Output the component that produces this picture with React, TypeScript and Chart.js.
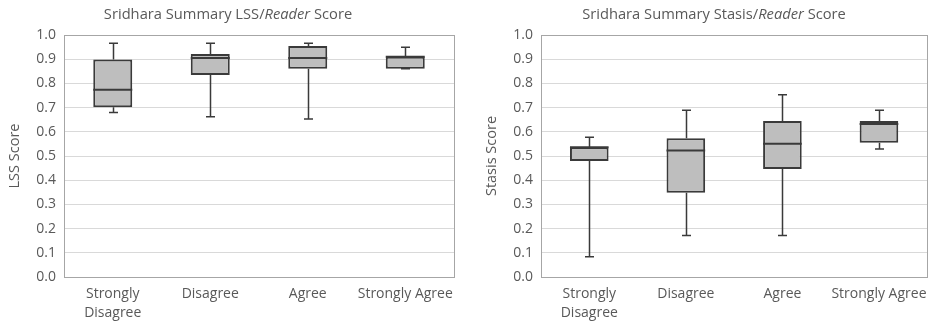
import React, { useEffect, useRef } from "react";
import { Chart, registerables } from "chart.js";

Chart.register(...registerables);

const categories: (string | string[])[] = [["Strongly", "Disagree"], "Disagree", "Agree", "Strongly Agree"];
const yTicks = [0, 0.1, 0.2, 0.3, 0.4, 0.5, 0.6, 0.7, 0.8, 0.9, 1.0];

const lssMin = [0.68, 0.662, 0.653, 0.861];
const lssQ1 = [0.701, 0.835, 0.861, 0.861];
const lssMedian = [0.774, 0.905, 0.905, 0.91];
const lssQ3 = [0.899, 0.921, 0.955, 0.91];
const lssMax = [0.966, 0.966, 0.966, 0.949];

const stasisMin = [0.084, 0.171, 0.171, 0.529];
const stasisQ1 = [0.479, 0.348, 0.446, 0.555];
const stasisMedian = [0.536, 0.523, 0.551, 0.632];
const stasisQ3 = [0.536, 0.573, 0.645, 0.645];
const stasisMax = [0.577, 0.689, 0.753, 0.689];

const FONT = "'Open Sans', sans-serif";
const TEXT = "#595959";
const EDGE = "#3a3a3a";

type Props = {
  titleParts: [string, string, string];
  yTitle: string;
  min: number[];
  q1: number[];
  median: number[];
  q3: number[];
  max: number[];
  yWidth: number;
  padRight: number;
  titleX: number;
  yTitlePad: number;
};

function BoxChart(p: Props) {
  const ref = useRef<HTMLCanvasElement | null>(null);
  useEffect(() => {
    if (!ref.current) return;
    const boxPlugin = {
      id: "boxExtras",
      beforeDatasetsDraw(chart: any) {
        const ctx = chart.ctx;
        const ys = chart.scales.y;
        const meta = chart.getDatasetMeta(0);
        ctx.save();
        ctx.strokeStyle = EDGE;
        ctx.lineWidth = 1.5;
        meta.data.forEach((bar: any, i: number) => {
          const x = Math.round(bar.x) + 0.5;
          const cap = 4.5;
          const yMax = ys.getPixelForValue(p.max[i]);
          const yMin = ys.getPixelForValue(p.min[i]);
          const yQ3 = ys.getPixelForValue(p.q3[i]);
          const yQ1 = ys.getPixelForValue(p.q1[i]);
          ctx.beginPath();
          ctx.moveTo(x, yQ3);
          ctx.lineTo(x, yMax);
          ctx.moveTo(x - cap, yMax);
          ctx.lineTo(x + cap, yMax);
          ctx.moveTo(x, yQ1);
          ctx.lineTo(x, yMin);
          ctx.moveTo(x - cap, yMin);
          ctx.lineTo(x + cap, yMin);
          ctx.stroke();
        });
        ctx.restore();
      },
      afterDatasetsDraw(chart: any) {
        const ctx = chart.ctx;
        const ys = chart.scales.y;
        const meta = chart.getDatasetMeta(0);
        ctx.save();
        ctx.strokeStyle = EDGE;
        ctx.lineWidth = 2;
        meta.data.forEach((bar: any, i: number) => {
          const yM = ys.getPixelForValue(p.median[i]);
          const half = bar.width / 2;
          ctx.beginPath();
          ctx.moveTo(bar.x - half, yM);
          ctx.lineTo(bar.x + half, yM);
          ctx.stroke();
        });
        ctx.restore();
      },
      afterDraw(chart: any) {
        const ctx = chart.ctx;
        const a = chart.chartArea;
        ctx.save();
        ctx.strokeStyle = "#a6a6a6";
        ctx.lineWidth = 1;
        ctx.strokeRect(Math.round(a.left) + 0.5, Math.round(a.top) + 0.5, Math.round(a.right - a.left), Math.round(a.bottom - a.top));
        const normal = `14.7px ${FONT}`;
        const italic = `italic 14.7px ${FONT}`;
        ctx.fillStyle = TEXT;
        ctx.textBaseline = "middle";
        ctx.textAlign = "left";
        ctx.font = normal;
        const w1 = ctx.measureText(p.titleParts[0]).width;
        const w3 = ctx.measureText(p.titleParts[2]).width;
        ctx.font = italic;
        const w2 = ctx.measureText(p.titleParts[1]).width;
        let x = p.titleX - (w1 + w2 + w3) / 2;
        const y = 15;
        ctx.font = normal;
        ctx.fillText(p.titleParts[0], x, y);
        x += w1;
        ctx.font = italic;
        ctx.fillText(p.titleParts[1], x, y);
        x += w2;
        ctx.font = normal;
        ctx.fillText(p.titleParts[2], x, y);
        ctx.restore();
      },
    };

    const boxData = p.q1.map((v, i) => [v, p.q3[i]]);
    const chart = new Chart(ref.current, {
      type: "bar",
      data: {
        labels: categories,
        datasets: [
          {
            data: boxData as any,
            backgroundColor: "#bebebe",
            borderColor: EDGE,
            borderWidth: 2,
            borderSkipped: false,
            categoryPercentage: 1,
            barPercentage: 0.4,
          },
        ],
      },
      options: {
        animation: false,
        responsive: false,
        layout: { padding: { top: 35, right: p.padRight, left: 0, bottom: 0 } },
        plugins: { legend: { display: false }, tooltip: { enabled: false }, title: { display: false } },
        scales: {
          x: {
            grid: { display: false, drawTicks: false },
            border: { color: "#a6a6a6" },
            ticks: { color: TEXT, font: { family: FONT, size: 14, lineHeight: 1.4 }, padding: 7, maxRotation: 0, autoSkip: false },
            afterFit: (s: any) => { s.height = 48; },
          },
          y: {
            min: 0,
            max: 1,
            afterBuildTicks: (s: any) => { s.ticks = yTicks.map((v) => ({ value: v })); },
            grid: { color: "#d9d9d9", drawTicks: false },
            border: { color: "#a6a6a6" },
            ticks: {
              color: TEXT,
              font: { family: FONT, size: 14 },
              padding: 8,
              callback: (v: any) => Number(v).toFixed(1),
            },
            title: {
              display: true,
              text: p.yTitle,
              color: TEXT,
              font: { family: FONT, size: 14.5 },
              padding: { top: p.yTitlePad, bottom: 2 },
            },
            afterFit: (s: any) => { s.width = p.yWidth; },
          },
        },
      },
      plugins: [boxPlugin],
    });
    return () => chart.destroy();
  }, []);
  return <canvas ref={ref} width={467} height={325} style={{ display: "block", width: 467, height: 325 }} />;
}

export default function App() {
  return (
    <div style={{ position: "fixed", left: 0, top: 0, width: 934, height: 325, display: "flex", background: "#fff" }}>
      <BoxChart
        titleParts={["Sridhara Summary LSS/", "Reader", " Score"]}
        yTitle="LSS Score"
        min={lssMin}
        q1={lssQ1}
        median={lssMedian}
        q3={lssQ3}
        max={lssMax}
        yWidth={64}
        padRight={13}
        titleX={228}
        yTitlePad={6}
      />
      <BoxChart
        titleParts={["Sridhara Summary Stasis/", "Reader", " Score"]}
        yTitle="Stasis Score"
        min={stasisMin}
        q1={stasisQ1}
        median={stasisMedian}
        q3={stasisQ3}
        max={stasisMax}
        yWidth={74}
        padRight={4}
        titleX={247}
        yTitlePad={16}
      />
    </div>
  );
}
